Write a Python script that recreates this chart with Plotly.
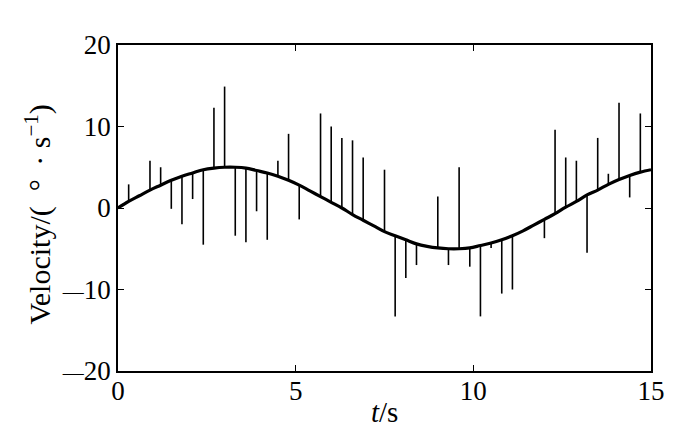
import plotly.graph_objects as go

# sample times (s)
t = [round(0.3 * k, 1) for k in range(51)]
# smooth velocity curve read at each sample (deg/s)
curve = [0.0, 0.8, 1.5, 2.2, 2.8, 3.4, 3.9, 4.3, 4.7, 4.9,
         5.0, 5.0, 4.9, 4.6, 4.3, 3.9, 3.4, 2.8, 2.1, 1.4,
         0.7, 0.0, -0.8, -1.5, -2.2, -2.9, -3.4, -3.9, -4.4, -4.7,
         -4.9, -5.0, -5.0, -4.9, -4.6, -4.3, -3.9, -3.4, -2.8, -2.1,
         -1.4, -0.7, 0.1, 0.8, 1.6, 2.2, 2.9, 3.5, 4.0, 4.4, 4.7]
# outlier spike values at samples (None = no spike)
spikes = [None, 2.9, None, 5.8, 5.0, -0.1, -2.0, 1.1, -4.5, 12.3,
          14.9, -3.4, -4.2, -0.4, -3.9, 5.8, 9.1, -1.4, None, 11.6,
          10.0, 8.6, 8.3, 6.2, None, 4.7, -13.3, -8.6, -7.0, None,
          1.4, -7.0, 5.0, -7.2, -13.3, -4.9, -10.5, -10.0, None, None,
          -3.7, 9.6, 6.2, 5.8, -5.5, 8.6, 4.2, 12.9, 1.3, 11.6, None]

x_ticks = [0, 5, 10, 15]
y_ticks = [-20, -10, 0, 10, 20]

sx, sy = [], []
for ti, c, s in zip(t, curve, spikes):
    if s is not None:
        sx += [ti, ti, None]
        sy += [c, s, None]

fig = go.Figure()
fig.add_trace(go.Scatter(x=sx, y=sy, mode="lines",
                         line=dict(color="black", width=1.6),
                         hoverinfo="skip", showlegend=False))
fig.add_trace(go.Scatter(x=t, y=curve, mode="lines", line_shape="spline",
                         line=dict(color="black", width=3.2),
                         showlegend=False))

FAM = "Liberation Serif"
font = dict(family=FAM, size=27, color="black")
axis_common = dict(showline=True, linecolor="black", linewidth=1.5, mirror="ticks",
                   ticks="inside", ticklen=6, tickwidth=1.2, tickcolor="black",
                   showgrid=False, zeroline=False, tickfont=font, automargin=False)


def ylab(v):
    if v < 0:
        return "<span style='font-size:21px'>\u2014</span>" + str(-v)
    return str(v)


# the page body has an 8px margin, so the figure is shifted by 8px
fig.update_layout(
    width=692, height=421,
    margin=dict(l=110, r=49, t=37, b=58),
    paper_bgcolor="white", plot_bgcolor="white",
    font=font,
    xaxis=dict(range=[0, 15], tickvals=x_ticks, ticktext=[str(v) for v in x_ticks],
               ticklabelstandoff=-5, **axis_common),
    yaxis=dict(range=[-20, 20], tickvals=y_ticks,
               ticktext=[ylab(v) for v in y_ticks],
               **axis_common),
    annotations=[
        dict(text="<i>t</i>/s", xref="paper", yref="paper", x=0.5, y=-0.125,
             xanchor="center", yanchor="middle", showarrow=False,
             font=dict(family=FAM, size=29, color="black")),
        dict(text="Velocity/(\u2002\u00b0 \u2009\u00b7 s<sup>\u22121</sup>)",
             xref="paper", yref="paper", x=-0.15, y=0.48, textangle=-90,
             xanchor="center", yanchor="middle", showarrow=False,
             font=dict(family=FAM, size=30, color="black")),
    ],
)

fig.write_html("out.html")
